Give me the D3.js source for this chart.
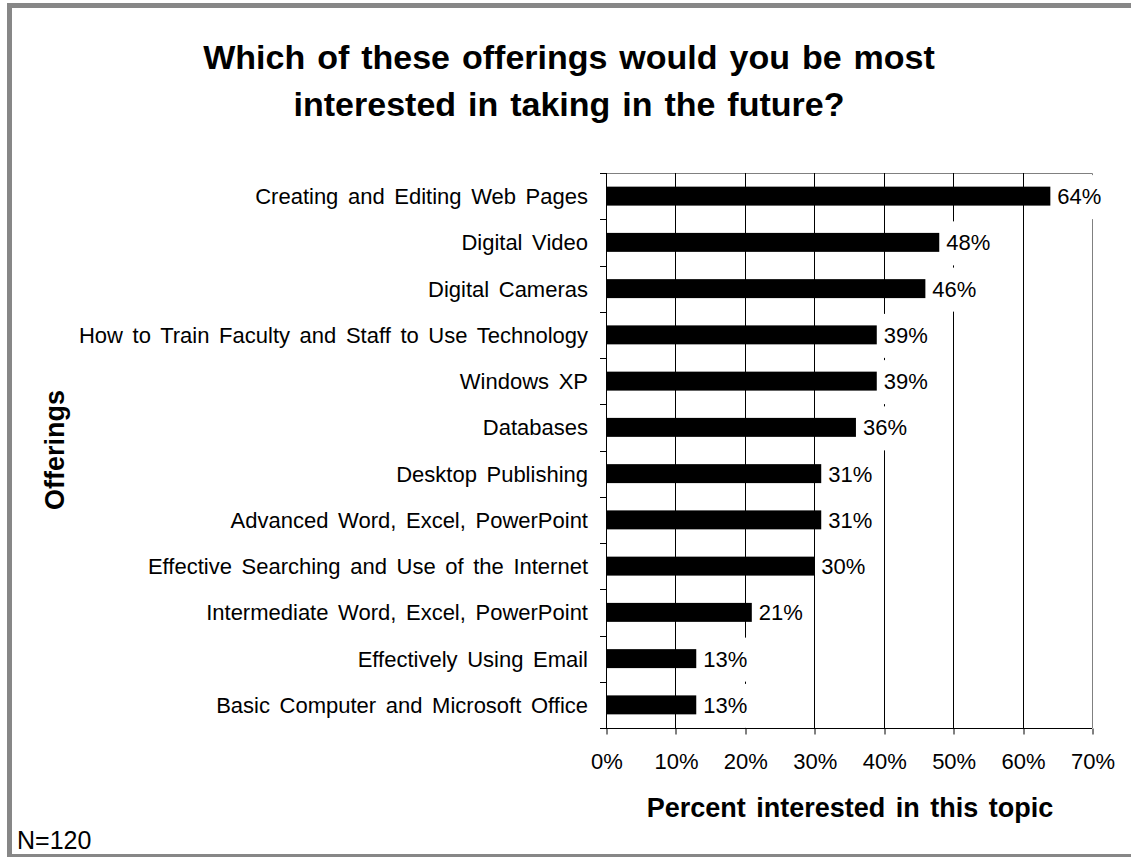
<!DOCTYPE html>
<html>
<head>
<meta charset="utf-8">
<script src="https://cdn.jsdelivr.net/npm/d3@7"></script>
<style>
  html, body { margin: 0; padding: 0; background: #fff; }
  svg { display: block; }
  text { font-family: Arial, "Liberation Sans", sans-serif; fill: #000; }
</style>
</head>
<body>
<svg id="chart" width="1131" height="857"></svg>
<script>
// Survey offerings, top to bottom
const categories = [
  "Creating and Editing Web Pages",
  "Digital Video",
  "Digital Cameras",
  "How to Train Faculty and Staff to Use Technology",
  "Windows XP",
  "Databases",
  "Desktop Publishing",
  "Advanced Word, Excel, PowerPoint",
  "Effective Searching and Use of the Internet",
  "Intermediate Word, Excel, PowerPoint",
  "Effectively Using Email",
  "Basic Computer and Microsoft Office"
];
// Percent interested
const values = [64, 48, 46, 39, 39, 36, 31, 31, 30, 21, 13, 13];
const xTicks = [0, 10, 20, 30, 40, 50, 60, 70];

const titleLines = [
  "Which of these offerings would you be most",
  "interested in taking in the future?"
];

const svg = d3.select("#chart");

// outer frame
svg.append("rect")
  .attr("x", 9.5).attr("y", 5.5)
  .attr("width", 1140).attr("height", 851)
  .attr("fill", "#fff")
  .attr("stroke", "#878787").attr("stroke-width", 5);

const plot = { left: 606, right: 1092, top: 173, bottom: 728 };

const x = d3.scaleLinear().domain([0, 70]).range([plot.left, plot.right]);
const y = d3.scaleBand().domain(categories).range([plot.top, plot.bottom]).paddingInner(0.59).paddingOuter(0.295);
const band = d3.scaleBand().domain(categories).range([plot.top, plot.bottom]);

// title
svg.append("text")
  .attr("x", 569).attr("y", 69)
  .attr("text-anchor", "middle")
  .style("font-size", "34px").style("font-weight", "bold")
  .style("word-spacing", "2.5px")
  .selectAll("tspan").data(titleLines).join("tspan")
  .attr("x", 569).attr("dy", (d, i) => i === 0 ? 0 : 47)
  .text(d => d);

// plot frame (top/right in gray)
svg.append("path")
  .attr("d", `M${plot.left},${plot.top + 0.5}H${plot.right + 0.5}V${plot.bottom}`)
  .attr("fill", "none").attr("stroke", "#808080").attr("stroke-width", 1);

// vertical gridlines
svg.append("g").selectAll("line").data(xTicks.slice(1, -1)).join("line")
  .attr("x1", d => Math.round(x(d)) + 0.5).attr("x2", d => Math.round(x(d)) + 0.5)
  .attr("y1", plot.top).attr("y2", plot.bottom)
  .attr("stroke", "#000").attr("stroke-width", 1);

// bottom axis line
svg.append("line")
  .attr("x1", plot.left).attr("x2", plot.right)
  .attr("y1", plot.bottom + 0.5).attr("y2", plot.bottom + 0.5)
  .attr("stroke", "#000");

// left axis with ticks at band boundaries
svg.append("line")
  .attr("x1", plot.left + 0.5).attr("x2", plot.left + 0.5)
  .attr("y1", plot.top).attr("y2", plot.bottom + 1)
  .attr("stroke", "#000");
const boundaries = categories.map(c => band(c)).concat([plot.bottom]);
svg.append("g").selectAll("line").data(boundaries).join("line")
  .attr("x1", plot.left - 6).attr("x2", plot.left)
  .attr("y1", d => Math.round(d) + 0.5).attr("y2", d => Math.round(d) + 0.5)
  .attr("stroke", "#000");

// category labels
svg.append("g").selectAll("text").data(categories).join("text")
  .attr("x", 588)
  .attr("y", d => y(d) + y.bandwidth() / 2)
  .attr("dy", "0.36em")
  .attr("text-anchor", "end")
  .style("font-size", "22px")
  .style("word-spacing", "3.5px")
  .text(d => d);

// bars
svg.append("g").selectAll("rect").data(values).join("rect")
  .attr("x", plot.left + 1)
  .attr("y", (d, i) => y(categories[i]))
  .attr("width", d => x(d) - plot.left - 1)
  .attr("height", y.bandwidth())
  .attr("fill", "#000");

// value labels on white boxes
const lbl = svg.append("g").selectAll("g").data(values).join("g");
lbl.append("rect").attr("fill", "#fff");
lbl.append("text")
  .attr("x", d => x(d) + 7)
  .attr("y", (d, i) => y(categories[i]) + y.bandwidth() / 2)
  .attr("dy", "0.36em")
  .style("font-size", "22px")
  .text(d => d + "%");
lbl.each(function (d, i) {
  const g = d3.select(this);
  const w = g.select("text").node().getComputedTextLength();
  const cy = y(categories[i]) + y.bandwidth() / 2;
  g.select("rect")
    .attr("x", x(d) + 3).attr("y", cy - 21)
    .attr("width", w + 10).attr("height", 44);
});

// bottom axis ticks and labels
const xAxis = d3.axisBottom(x).tickValues(xTicks).tickFormat(d => d + "%").tickSize(6).tickPadding(10);
const gx = svg.append("g").attr("transform", `translate(0.5,${plot.bottom + 0.5})`).call(xAxis);
gx.select(".domain").remove();
gx.selectAll(".tick line").attr("stroke", "#000").attr("transform", d => `translate(${Math.round(x(d)) - x(d)},0)`);
gx.selectAll(".tick text").style("font-size", "22px").attr("y", 0).attr("dy", "40px");

// axis titles
svg.append("text")
  .attr("transform", "translate(64,450) rotate(-90)")
  .attr("text-anchor", "middle")
  .style("font-size", "27px").style("font-weight", "bold")
  .text("Offerings");

svg.append("text")
  .attr("x", 850).attr("y", 817)
  .attr("text-anchor", "middle")
  .style("font-size", "27px").style("font-weight", "bold")
  .style("word-spacing", "3px")
  .text("Percent interested in this topic");

svg.append("text")
  .attr("x", 17).attr("y", 849)
  .style("font-size", "25px")
  .text("N=120");
</script>
</body>
</html>
